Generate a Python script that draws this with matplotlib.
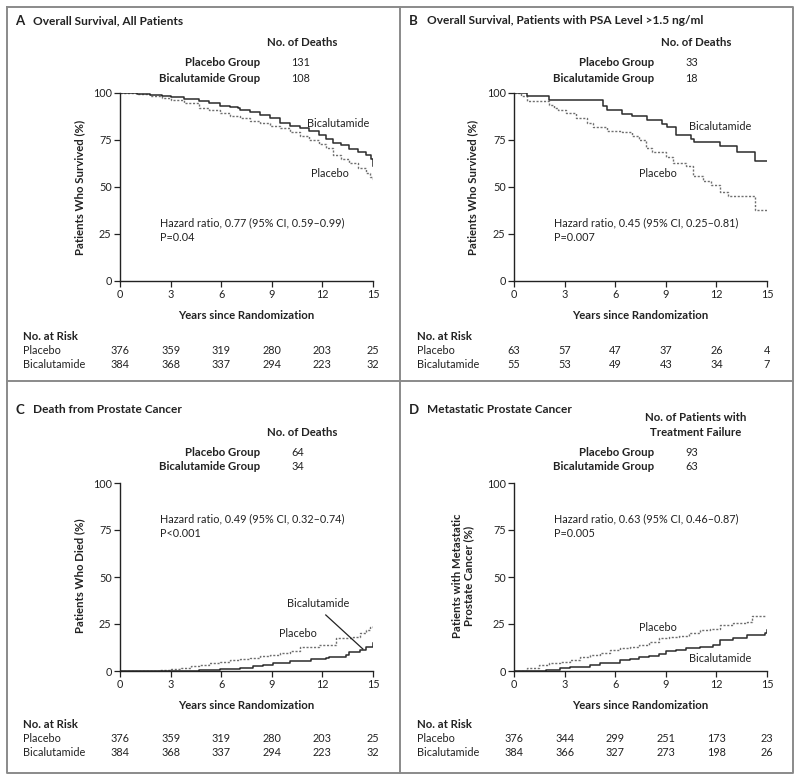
import matplotlib
matplotlib.use("Agg")
import matplotlib.pyplot as plt
from matplotlib.transforms import blended_transform_factory
from matplotlib.lines import Line2D

plt.rcParams['font.family'] = ['Lato', 'DejaVu Sans']

W, H = 800, 781
years = [0, 3, 6, 9, 12, 15]
yticks = [0, 25, 50, 75, 100]

# panel A - overall survival, all patients
A_t_bic = [0, 1, 1.8, 2.5, 3.0, 3.8, 4.7, 5.3, 5.9, 6.5, 7.0, 7.1, 7.7, 8.3, 8.9, 9.5, 10.1,
           10.7, 11.2, 11.8, 12.2, 12.6, 13.1, 13.6, 14.1, 14.6, 14.9, 15]
A_v_bic = [100, 99.6, 99, 98.5, 97.7, 96.8, 95.6, 94.5, 93.3, 92.5, 92, 91, 90, 88.5, 86.5, 84, 82.5,
           81.4, 79.8, 77.8, 75.5, 73.4, 72.5, 70, 68.5, 67, 65, 61]
A_t_pla = [0, 1, 1.8, 2.5, 3.0, 3.8, 4.7, 5.3, 5.9, 6.5, 7.1, 7.7, 8.3, 8.9, 9.5, 10.1, 10.7,
           11.2, 11.8, 12.2, 12.6, 13.1, 13.6, 14.1, 14.6, 14.8, 15]
A_v_pla = [100, 99.5, 98.6, 97.5, 96.4, 94.5, 92, 90.7, 89.4, 88, 86.7, 85.3, 84, 82.7, 81.4, 79.5, 77,
           75, 73, 71, 67, 65, 62.7, 60, 57.4, 55.5, 53]
A_risk_pla = [376, 359, 319, 280, 203, 25]
A_risk_bic = [384, 368, 337, 294, 223, 32]

# panel B - overall survival, PSA > 1.5
B_t_bic = [0, 0.8, 2.1, 5.3, 5.5, 6.4, 7.0, 7.9, 8.8, 9.1, 9.6, 10.5, 10.7, 12.2, 13.2, 14.3, 15]
B_v_bic = [100, 98.2, 96.4, 93.3, 91, 89, 87.6, 85.4, 83.7, 81.7, 77.8, 75.7, 73.7, 71.6, 68.6, 63.9, 63.9]
B_t_pla = [0, 0.4, 0.8, 2.1, 2.4, 2.6, 3.1, 3.7, 4.3, 4.7, 5.5, 6.4, 7.0, 7.4, 7.8, 8.2, 9.0, 9.4,
           10.2, 10.6, 11.2, 11.7, 12.2, 12.7, 14.3, 15]
B_v_pla = [100, 98.2, 95.6, 93.8, 92, 91, 89.3, 86.7, 84, 81.7, 79.6, 79, 77, 75, 70.6, 68.4, 66, 62.7,
           61, 55.6, 53, 51, 47.6, 45, 37.8, 37.8]
B_risk_pla = [63, 57, 47, 37, 26, 4]
B_risk_bic = [55, 53, 49, 43, 34, 7]

# panel C - death from prostate cancer
C_t_pla = [0, 2.4, 3.0, 3.6, 4.2, 4.7, 5.3, 5.9, 6.5, 7.1, 7.7, 8.3, 8.9, 9.5, 10.1, 10.7, 11.8,
           12.3, 12.8, 13.8, 14.2, 14.6, 14.8, 15]
C_v_pla = [0, 0.5, 1, 1.8, 2.5, 3.2, 4, 5, 5.6, 6.2, 7, 8, 8.7, 9.4, 10.5, 13, 13.8,
           13.8, 17.4, 18.3, 20, 21.8, 23.2, 24.8]
C_t_bic = [0, 4.7, 5.9, 7.1, 7.9, 8.5, 9.1, 10.1, 11.3, 12.2, 12.4, 13.4, 13.6, 14.2, 14.6, 15]
C_v_bic = [0, 0.5, 0.9, 1.4, 2.7, 3.3, 4, 5.3, 6.2, 6.7, 7.6, 8.5, 10, 11.2, 12.6, 14.7]
C_risk_pla = [376, 359, 319, 280, 203, 25]
C_risk_bic = [384, 368, 337, 294, 223, 32]

# panel D - metastatic prostate cancer
D_t_pla = [0, 0.8, 1.5, 2.1, 2.7, 3.3, 3.9, 4.5, 5.1, 5.7, 6.3, 6.9, 7.4, 8.0, 8.6, 9.2, 9.8,
           10.4, 11.0, 11.6, 12.2, 13.0, 13.8, 14.1, 15]
D_v_pla = [0, 1.8, 3.2, 4, 5, 6, 7.6, 8.5, 9.4, 11, 12.4, 13, 13.8, 15.5, 17.3, 18, 18.6,
           20, 21.8, 22.5, 24.4, 25.5, 26.2, 29.2, 29.2]
D_t_bic = [0, 1.9, 2.7, 3.3, 3.9, 4.5, 5.1, 5.7, 6.3, 6.9, 7.4, 8.0, 8.6, 9.0, 9.6, 10.2, 11.0,
           11.8, 12.2, 13.0, 13.8, 14.9, 15]
D_v_bic = [0, 0.5, 1.4, 1.9, 2.3, 3.2, 4, 4.5, 5.8, 6.5, 7.3, 7.8, 8.9, 10.6, 11, 12.4, 12.6,
           13.8, 16.5, 17.7, 19.1, 20, 22]
D_risk_pla = [376, 344, 299, 251, 173, 23]
D_risk_bic = [384, 366, 327, 273, 198, 26]

TXT = '#222222'
GRID = '#8a8a8a'
FS = 7.8    # regular text
FB = 8.2    # bold text


def fx(x):
    return x / W


def fy(y):
    return 1 - y / H


fig = plt.figure(figsize=(8, 7.81), dpi=100, facecolor='white')

# panel frames
frame = dict(color=GRID, lw=1.4, transform=fig.transFigure)
fig.add_artist(Line2D([fx(7), fx(793), fx(793), fx(7), fx(7)],
                      [fy(7), fy(7), fy(773), fy(773), fy(7)], **frame))
fig.add_artist(Line2D([fx(400), fx(400)], [fy(7), fy(773)], **frame))
fig.add_artist(Line2D([fx(7), fx(793)], [fy(381), fy(381)], **frame))


def panel(left, top, letter, title, ylabel, ylab_x, t_bic, v_bic, t_pla, v_pla,
          risk_pla, risk_bic, count_head, counts, hr, pval, hr_y, ox, oy):
    # left/top: pixel position of axes corner; ox, oy: panel offset
    ax = fig.add_axes([fx(left), fy(top + 188), 253 / W, 188 / H])
    ax.step(t_pla, v_pla, where='post', color='#6f6f6f', lw=1.0, ls=(0, (1.5, 1.2)))
    ax.step(t_bic, v_bic, where='post', color='#2b2b2b', lw=1.1)
    ax.set_xlim(0, 15)
    ax.set_ylim(0, 100)
    ax.set_xticks(years)
    ax.set_yticks(yticks)
    for s in ['top', 'right']:
        ax.spines[s].set_visible(False)
    for s in ['left', 'bottom']:
        ax.spines[s].set_linewidth(1.0)
        ax.spines[s].set_color('#222222')
    ax.tick_params(direction='out', length=4, width=0.9, labelsize=FS, colors='#222222', pad=2)
    ax.set_facecolor('none')

    fig.text(fx(ox + 15), fy(oy + 21), letter, fontsize=9.5, fontweight='bold', color=TXT, va='center')
    fig.text(fx(ox + 33), fy(oy + 21), title, fontsize=8.6, fontweight='bold', color=TXT, va='center')

    # counts block
    for i, line in enumerate(count_head):
        fig.text(fx(ox + 302), fy(oy + 43 - 14 * (len(count_head) - 1 - i)), line,
                 fontsize=FB, fontweight='bold', color=TXT, ha='center', va='center')
    for i, (lab, n) in enumerate(zip(['Placebo Group', 'Bicalutamide Group'], counts)):
        fig.text(fx(ox + 260), fy(oy + 63 + 15 * i), lab, fontsize=FB, fontweight='bold',
                 color=TXT, ha='right', va='center')
        fig.text(fx(ox + 291), fy(oy + 63 + 15 * i), str(n), fontsize=FS,
                 color=TXT, ha='left', va='center')

    fig.text(fx(ylab_x), fy(oy + 187), ylabel, rotation=90, fontsize=FB, fontweight='bold',
             color=TXT, ha='center', va='center', linespacing=1.1)
    ax.set_xlabel('Years since Randomization', fontsize=FB, fontweight='bold', color=TXT, labelpad=7)

    ax.text(2.37, hr_y, hr, fontsize=FS, color=TXT, va='center')
    ax.text(2.37, hr_y - 7.5, pval, fontsize=FS, color=TXT, va='center')

    # number at risk
    fig.text(fx(ox + 23), fy(oy + 336), 'No. at Risk', fontsize=FB, fontweight='bold', color=TXT, va='center')
    fig.text(fx(ox + 23), fy(oy + 350), 'Placebo', fontsize=FS, color=TXT, va='center')
    fig.text(fx(ox + 23), fy(oy + 364), 'Bicalutamide', fontsize=FS, color=TXT, va='center')
    tr = blended_transform_factory(ax.transData, fig.transFigure)
    for yr, a, b in zip(years, risk_pla, risk_bic):
        ax.text(yr, fy(oy + 350), str(a), transform=tr, fontsize=FS, color=TXT, ha='center', va='center')
        ax.text(yr, fy(oy + 364), str(b), transform=tr, fontsize=FS, color=TXT, ha='center', va='center')
    return ax


axA = panel(120, 93, 'A', 'Overall Survival, All Patients', 'Patients Who Survived (%)', 80,
            A_t_bic, A_v_bic, A_t_pla, A_v_pla, A_risk_pla, A_risk_bic,
            ['No. of Deaths'], [131, 108],
            'Hazard ratio, 0.77 (95% CI, 0.59\u20130.99)', 'P=0.04', 30.9, 0, 0)
axA.text(11.1, 84, 'Bicalutamide', fontsize=FS, color=TXT, va='center')
axA.text(11.3, 57.4, 'Placebo', fontsize=FS, color=TXT, va='center')

axB = panel(514, 93, 'B', 'Overall Survival, Patients with PSA Level >1.5 ng/ml',
            'Patients Who Survived (%)', 473,
            B_t_bic, B_v_bic, B_t_pla, B_v_pla, B_risk_pla, B_risk_bic,
            ['No. of Deaths'], [33, 18],
            'Hazard ratio, 0.45 (95% CI, 0.25\u20130.81)', 'P=0.007', 30.9, 394, 0)
axB.text(10.4, 82, 'Bicalutamide', fontsize=FS, color=TXT, va='center')
axB.text(7.4, 57.4, 'Placebo', fontsize=FS, color=TXT, va='center')

axC = panel(120, 483, 'C', 'Death from Prostate Cancer', 'Patients Who Died (%)', 80,
            C_t_bic, C_v_bic, C_t_pla, C_v_pla, C_risk_pla, C_risk_bic,
            ['No. of Deaths'], [64, 34],
            'Hazard ratio, 0.49 (95% CI, 0.32\u20130.74)', 'P<0.001', 80.9, 0, 389)
axC.text(9.9, 36, 'Bicalutamide', fontsize=FS, color=TXT, va='center')
axC.text(9.4, 19.7, 'Placebo', fontsize=FS, color=TXT, va='center')
axC.plot([12.2, 14.4], [29.8, 11.7], color='#222222', lw=0.9)

axD = panel(514, 483, 'D', 'Metastatic Prostate Cancer',
            'Patients with Metastatic\nProstate Cancer (%)', 463,
            D_t_bic, D_v_bic, D_t_pla, D_v_pla, D_risk_pla, D_risk_bic,
            ['No. of Patients with', 'Treatment Failure'], [93, 63],
            'Hazard ratio, 0.63 (95% CI, 0.46\u20130.87)', 'P=0.005', 80.9, 394, 389)
axD.text(7.4, 23.4, 'Placebo', fontsize=FS, color=TXT, va='center')
axD.text(10.4, 6.4, 'Bicalutamide', fontsize=FS, color=TXT, va='center')

fig.savefig('out.png', dpi=100, facecolor='white')
